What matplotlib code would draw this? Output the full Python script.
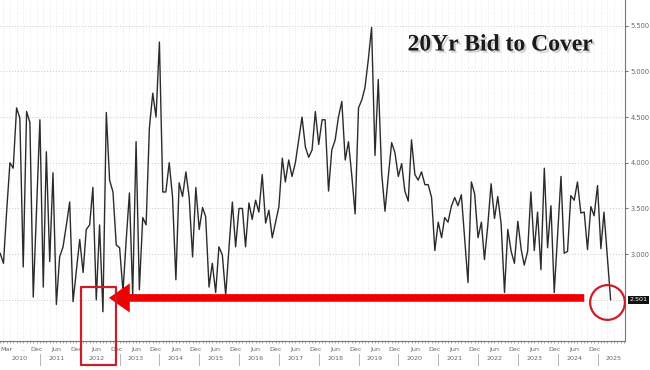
import matplotlib
matplotlib.use("Agg")
from matplotlib import pyplot as plt
import matplotlib.dates as mdates
import matplotlib.patheffects as pe
from matplotlib.patches import Rectangle
import pandas as pd
from datetime import datetime

# monthly 20yr bid to cover, starting Jan 2010
start_month = "2010-01"
bid_to_cover = [
    3.01, 2.90, 3.45, 4.00, 3.94, 4.60, 4.49, 2.86, 4.56, 4.44,
    2.53, 3.48, 4.47, 2.64, 4.12, 2.92, 3.89, 2.45, 2.97, 3.08,
    3.32, 3.57, 2.48, 2.82, 3.16, 2.80, 3.27, 3.32, 3.73, 2.50,
    3.32, 2.37, 4.55, 3.81, 3.68, 3.10, 3.07, 2.59, 3.13, 3.67,
    2.55, 4.23, 2.61, 3.40, 3.32, 4.38, 4.76, 4.50, 5.32, 3.68,
    3.68, 4.00, 3.63, 2.72, 3.78, 3.63, 3.90, 3.62, 2.97, 3.73,
    3.27, 3.51, 3.41, 2.64, 2.90, 2.58, 3.08, 2.99, 2.55, 3.07,
    3.57, 3.08, 3.50, 3.50, 3.08, 3.56, 3.38, 3.59, 3.46, 3.87,
    3.34, 3.48, 3.18, 3.35, 3.52, 4.05, 3.79, 4.03, 3.85, 4.00,
    4.25, 4.50, 4.17, 4.06, 4.14, 4.56, 4.20, 4.47, 4.47, 3.69,
    4.14, 4.25, 4.50, 4.67, 4.03, 4.23, 3.85, 3.44, 4.60, 4.69,
    4.82, 5.13, 5.48, 4.08, 4.91, 3.89, 3.47, 3.85, 4.22, 4.11,
    3.85, 3.99, 3.69, 3.58, 4.25, 3.87, 3.81, 3.90, 3.76, 3.76,
    3.62, 3.04, 3.35, 3.18, 3.40, 3.35, 3.52, 3.62, 3.53, 3.65,
    3.17, 2.69, 3.79, 3.66, 3.18, 3.35, 2.94, 3.32, 3.77, 3.39,
    3.63, 3.33, 2.58, 3.27, 3.03, 2.90, 3.36, 3.05, 2.88, 3.03,
    3.68, 3.04, 3.46, 2.83, 3.94, 3.07, 3.53, 2.58, 3.21, 3.85,
    3.01, 3.03, 3.64, 3.59, 3.79, 3.45, 3.46, 3.05, 3.52, 3.42,
    3.75, 3.06, 3.46, 2.98, 2.501,
]
y_ticks = [3.0, 3.5, 4.0, 4.5, 5.0, 5.5]
month_labels = [("2010-03", "Mar"), ("2010-08", ".."), ("2010-12", "Dec")]
for yr in range(2011, 2025):
    month_labels += [(f"{yr}-06", "Jun"), (f"{yr}-12", "Dec")]
year_labels = [("2010-07", "2010")] + [(f"{yr}-06", str(yr)) for yr in range(2011, 2026)]

dates = pd.date_range(start_month, periods=len(bid_to_cover), freq="MS")
low_idx = bid_to_cover.index(min(bid_to_cover))

fig = plt.figure(figsize=(6.5, 3.7), dpi=100)
ax = fig.add_axes([0, 1 - 341 / 370, 625 / 650, 341 / 370])

ax.plot(dates, bid_to_cover, color="#2b2b2b", lw=1.0, zorder=3)

ax.set_xlim(datetime(2009, 12, 31), datetime(2025, 9, 10))
ax.set_ylim(2.05, 5.78)

# grid
for v in [2.5] + y_ticks:
    ax.axhline(v, color="#c8c8c8", lw=0.7, ls=(0, (1, 2)), zorder=1)
for d in pd.date_range("2010-02", "2025-08", freq="2MS"):
    ax.axvline(d, color="#e2e2e2", lw=0.6, ls=(0, (1, 2)), zorder=1)

for s in ["left", "top"]:
    ax.spines[s].set_visible(False)
for s in ["right", "bottom"]:
    ax.spines[s].set_color("#777777")
    ax.spines[s].set_linewidth(0.8)

ax.yaxis.tick_right()
ax.set_yticks(y_ticks)
ax.set_yticklabels([f"{v:.3f}" for v in y_ticks])
ax.tick_params(axis="y", length=2.5, width=0.8, color="#777777", labelsize=4.8,
               labelcolor="#666666", pad=1.5)
ax.set_xticks([])
ax.xaxis.set_minor_locator(mdates.MonthLocator())
ax.tick_params(axis="x", which="minor", length=1.5, color="#999999")

tr = ax.get_xaxis_transform()
for d, lab in month_labels:
    ax.text(pd.Timestamp(d), -0.018, lab, transform=tr, ha="center", va="top",
            fontsize=4.6, color="#666666", clip_on=False)
for d, lab in year_labels:
    ax.text(pd.Timestamp(d), -0.044, lab, transform=tr, ha="center", va="top",
            fontsize=4.6, color="#666666", clip_on=False)
for yr in range(2011, 2026):
    ax.plot([pd.Timestamp(f"{yr}-01-01")] * 2, [-0.038, -0.07], transform=tr,
            color="#aaaaaa", lw=0.6, clip_on=False)

# last value box
ax.annotate(f"{bid_to_cover[-1]:.3f}", xy=(1, bid_to_cover[-1]),
            xycoords=("axes fraction", "data"), xytext=(3, 0),
            textcoords="offset points", va="center", ha="left",
            fontsize=4.6, color="white",
            bbox=dict(boxstyle="square,pad=0.2", fc="#111111", ec="none"))

# title
ax.text(0.8, 0.868, "20Yr Bid to Cover", transform=ax.transAxes, ha="center",
        va="center", fontsize=17, fontweight="bold", family="Liberation Serif",
        color="#1a1a1a",
        path_effects=[pe.withSimplePatchShadow(offset=(1.5, -1.5), shadow_rgbFace="#999999", alpha=0.5)])

# red annotations
ax.annotate("", xy=(dates[low_idx] + pd.Timedelta(days=55), bid_to_cover[-1] + 0.02),
            xytext=(dates[-9], bid_to_cover[-1] + 0.02),
            arrowprops=dict(arrowstyle="simple,head_length=1.5,head_width=2.1,tail_width=0.55",
                            mutation_scale=10, color="#f00000", lw=0,
                            shrinkA=0, shrinkB=0), zorder=5)
ax.plot([dates[-2]], [bid_to_cover[-1] - 0.02], marker="o", ms=25, mfc="none",
        mec="#c8202a", mew=1.6, zorder=6, clip_on=False)
x0 = mdates.date2num(pd.Timestamp("2012-01-15"))
x1 = mdates.date2num(pd.Timestamp("2012-12-01"))
ax.add_patch(Rectangle((x0, 1.79), x1 - x0, 0.85, fill=False, ec="#c8202a",
                       lw=1.6, joinstyle="round", clip_on=False, zorder=6))

fig.savefig("out.png", dpi=100, facecolor="white")
